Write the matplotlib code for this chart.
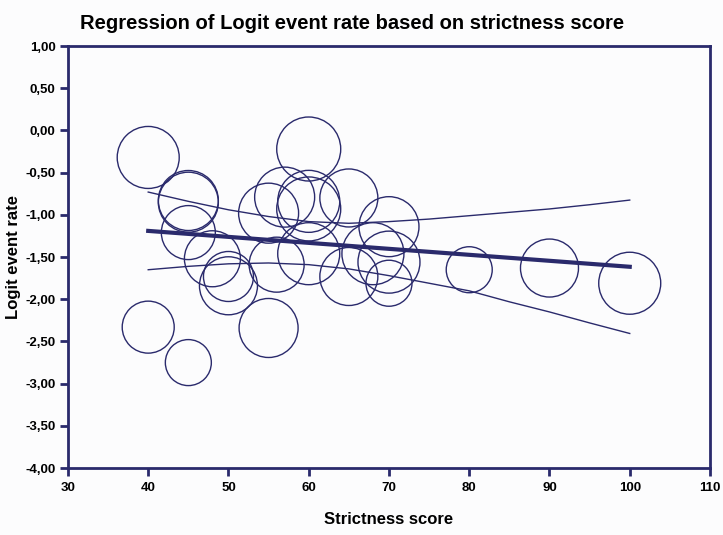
import matplotlib.pyplot as plt

plt.rcParams["font.family"] = ["Liberation Sans", "DejaVu Sans"]
plt.rcParams["font.weight"] = "bold"

navy = "#2a2a6c"

# study points: strictness score, logit event rate, weight (bubble diameter)
score = [40, 45, 45, 45, 48, 50, 50, 40, 45, 55, 60, 57, 55, 60, 60, 65,
         56, 60, 65, 70, 68, 70, 70, 80, 90, 100]
logit = [-0.32, -0.83, -0.85, -1.21, -1.52, -1.73, -1.84, -2.33, -2.75, -2.34,
         -0.22, -0.79, -0.98, -0.84, -0.93, -0.80, -1.59, -1.46, -1.73, -1.14,
         -1.46, -1.56, -1.81, -1.65, -1.63, -1.81]
weight = [31, 30, 30, 27, 28, 25, 29, 26, 23, 29.5, 32, 30, 30, 31, 32, 29,
          27.5, 31, 29, 30, 31, 31, 23, 23, 29, 31]

# regression line and confidence band
fit_x = [40, 100]
fit_y = [-1.19, -1.615]
band_x = [40, 45, 50, 55, 60, 65, 70, 75, 80, 85, 90, 95, 100]
band_upper = [-0.73, -0.84, -0.94, -1.02, -1.08, -1.10, -1.08, -1.05, -1.01,
              -0.97, -0.93, -0.88, -0.825]
band_lower = [-1.65, -1.61, -1.58, -1.57, -1.59, -1.64, -1.72, -1.81, -1.90,
              -2.03, -2.15, -2.28, -2.405]

fig = plt.figure(figsize=(7.23, 5.35), dpi=100)
fig.patch.set_facecolor("#fcfcfd")
ax = fig.add_axes([0.094, 0.125, 0.888, 0.789])
ax.set_facecolor("#fcfcfd")

sizes = [(2 * w * 0.72) ** 2 for w in weight]
ax.scatter(score, logit, s=sizes, facecolors="none", edgecolors=navy,
           linewidths=1.0, zorder=2)

ax.plot(fit_x, fit_y, color=navy, lw=3, zorder=3)
ax.plot(band_x, band_upper, color=navy, lw=1, zorder=3)
ax.plot(band_x, band_lower, color=navy, lw=1, zorder=3)

ax.set_xlim(30, 110)
ax.set_ylim(-4, 1)
ax.set_xticks(range(30, 111, 10))
yt = [1 - 0.5 * i for i in range(11)]
ax.set_yticks(yt)
ax.set_yticklabels([f"{v:.2f}".replace(".", ",") for v in yt])

for s in ax.spines.values():
    s.set_color(navy)
    s.set_linewidth(2)
ax.tick_params(colors=navy, width=2, length=6, labelsize=9.5,
               labelcolor="black", pad=3)
ax.tick_params(axis="x", pad=4)

ax.set_xlabel("Strictness score", fontsize=12, fontweight="bold", labelpad=13)
ax.set_ylabel("Logit event rate", fontsize=12, fontweight="bold", labelpad=3)
fig.text(0.487, 0.957, "Regression of Logit event rate based on strictness score",
         ha="center", va="center", fontsize=14.5, fontweight="bold")

fig.savefig("out.png", dpi=100, facecolor=fig.get_facecolor())
